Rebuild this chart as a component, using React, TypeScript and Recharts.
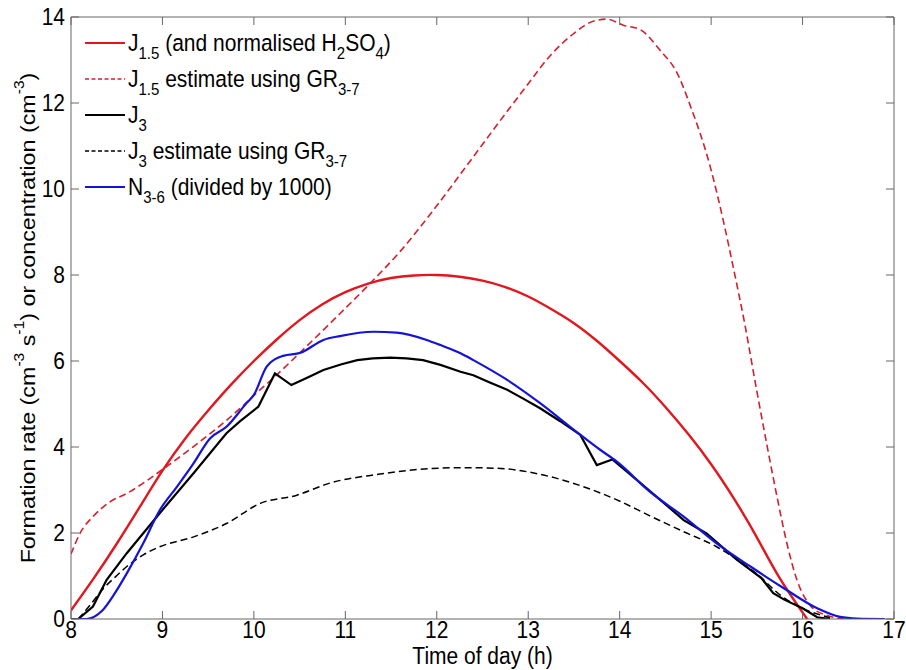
import React from "react";
import { LineChart, Line, XAxis, YAxis, ReferenceLine, Legend } from "recharts";

// axis ticks
const hourTicks = [8, 9, 10, 11, 12, 13, 14, 15, 16, 17];
const valueTicks = [0, 2, 4, 6, 8, 10, 12, 14];

// J1.5 (and normalised H2SO4)
const j15Time = [8.0, 8.25, 8.5, 8.75, 9.0, 9.25, 9.5, 9.75, 10.0, 10.25, 10.5, 10.75, 11.0, 11.25, 11.5, 11.75, 12.0, 12.25, 12.5, 12.75, 13.0, 13.25, 13.5, 13.75, 14.0, 14.25, 14.5, 14.75, 15.0, 15.25, 15.5, 15.75, 16.05];
const j15Value = [0.2, 0.95, 1.75, 2.6, 3.45, 4.2, 4.85, 5.45, 6.0, 6.5, 6.95, 7.32, 7.6, 7.8, 7.93, 7.99, 8.0, 7.96, 7.87, 7.72, 7.5, 7.21, 6.88, 6.47, 6.0, 5.5, 4.93, 4.3, 3.6, 2.8, 1.9, 0.95, 0];

// J1.5 estimate using GR3-7
const j15EstTime = [8.0, 8.1, 8.24, 8.43, 8.61, 8.79, 8.97, 9.34, 9.7, 9.85, 10.0, 10.21, 10.58, 10.94, 11.25, 11.6, 11.96, 12.33, 12.69, 12.99, 13.24, 13.5, 13.71, 13.86, 14.04, 14.23, 14.44, 14.63, 14.77, 14.99, 15.14, 15.25, 15.36, 15.5, 15.61, 15.72, 15.83, 15.94, 16.09, 16.27, 16.49];
const j15EstValue = [1.51, 2.0, 2.38, 2.73, 2.92, 3.16, 3.43, 4.01, 4.62, 4.9, 5.2, 5.6, 6.35, 7.1, 7.76, 8.55, 9.5, 10.55, 11.58, 12.42, 13.1, 13.62, 13.9, 13.95, 13.81, 13.7, 13.23, 12.69, 11.95, 10.52, 9.2, 8.1, 6.95, 5.3, 4.05, 2.85, 1.75, 0.9, 0.3, 0.08, 0];

// J3
const j3Time = [8.0, 8.08, 8.24, 8.39, 8.61, 8.97, 9.34, 9.7, 9.85, 10.05, 10.23, 10.41, 10.6, 10.76, 10.95, 11.13, 11.3, 11.49, 11.67, 11.85, 12.04, 12.26, 12.4, 12.58, 12.77, 12.95, 13.13, 13.35, 13.57, 13.75, 13.92, 14.19, 14.45, 14.7, 14.95, 15.28, 15.55, 15.68, 15.8, 16.0, 16.16, 16.3];
const j3Value = [0, 0, 0.29, 0.91, 1.53, 2.46, 3.39, 4.32, 4.6, 4.94, 5.71, 5.44, 5.63, 5.79, 5.92, 6.02, 6.06, 6.08, 6.06, 6.02, 5.91, 5.75, 5.67, 5.5, 5.33, 5.12, 4.9, 4.6, 4.28, 3.58, 3.71, 3.23, 2.76, 2.3, 1.99, 1.38, 0.95, 0.6, 0.45, 0.25, 0.04, 0];

// J3 estimate using GR3-7
const j3EstTime = [8.08, 8.2, 8.35, 8.47, 8.61, 8.79, 8.97, 9.34, 9.7, 10.07, 10.47, 10.83, 11.38, 11.93, 12.3, 12.7, 13.0, 13.24, 13.6, 13.97, 14.33, 14.7, 15.06, 15.28, 15.5, 15.76, 16.0, 16.3];
const j3EstValue = [0, 0.3, 0.7, 0.95, 1.22, 1.49, 1.68, 1.91, 2.22, 2.69, 2.88, 3.16, 3.37, 3.5, 3.52, 3.5, 3.42, 3.31, 3.08, 2.77, 2.4, 2.03, 1.68, 1.39, 1.05, 0.55, 0.25, 0.03];

// N3-6 (divided by 1000)
const n36Time = [8.0, 8.17, 8.34, 8.48, 8.61, 8.79, 8.97, 9.16, 9.34, 9.52, 9.7, 9.92, 10.0, 10.14, 10.32, 10.51, 10.76, 10.94, 11.31, 11.56, 11.89, 12.04, 12.26, 12.4, 12.77, 13.13, 13.5, 13.79, 13.97, 14.33, 14.7, 15.06, 15.43, 15.8, 16.16, 16.41, 16.6, 16.9];
const n36Value = [0, 0, 0.19, 0.6, 1.06, 1.76, 2.53, 3.08, 3.62, 4.2, 4.47, 5.02, 5.21, 5.87, 6.12, 6.19, 6.49, 6.58, 6.68, 6.66, 6.49, 6.37, 6.18, 6.02, 5.56, 5.02, 4.4, 3.93, 3.66, 2.96, 2.38, 1.76, 1.22, 0.71, 0.25, 0.05, 0.01, 0];

const toPoints = (t: number[], v: number[]) => t.map((x, i) => ({ x, y: v[i] }));

const RED = "#e3161d";
const RED_DASH = "#d4202c";
const BLUE = "#1414d8";
const AXIS = "#666666";
const FONT = "'Liberation Sans', Arial, sans-serif";
const FS = 21;
const STRETCH = 1.11; // text in the original is drawn taller than wide

const W = 906;
const H = 670;
const MARGIN = { top: 17, right: 12, left: 11, bottom: 0 };
const Y_AXIS_W = 60;
const X_AXIS_H = 51;
const PLOT_TOP = MARGIN.top;
const PLOT_RIGHT = W - MARGIN.right;
const TICK = 8;

type Part = { text: string; sub?: boolean };
const series = [
  { key: "j15", data: toPoints(j15Time, j15Value), color: RED, width: 2.4, dash: undefined, curve: "natural",
    label: [{ text: "J" }, { text: "1.5", sub: true }, { text: " (and normalised H" }, { text: "2", sub: true }, { text: "SO" }, { text: "4", sub: true }, { text: ")" }] as Part[] },
  { key: "j15est", data: toPoints(j15EstTime, j15EstValue), color: RED_DASH, width: 1.6, dash: "7 4", curve: "monotone",
    label: [{ text: "J" }, { text: "1.5", sub: true }, { text: " estimate using GR" }, { text: "3-7", sub: true }] as Part[] },
  { key: "j3", data: toPoints(j3Time, j3Value), color: "#000000", width: 2.2, dash: undefined, curve: "linear",
    label: [{ text: "J" }, { text: "3", sub: true }] as Part[] },
  { key: "j3est", data: toPoints(j3EstTime, j3EstValue), color: "#000000", width: 1.5, dash: "7 4", curve: "monotone",
    label: [{ text: "J" }, { text: "3", sub: true }, { text: " estimate using GR" }, { text: "3-7", sub: true }] as Part[] },
  { key: "n36", data: toPoints(n36Time, n36Value), color: BLUE, width: 2.2, dash: undefined, curve: "monotone",
    label: [{ text: "N" }, { text: "3-6", sub: true }, { text: " (divided by 1000)" }] as Part[] },
];

function TallText({ x, y, anchor, children }: any) {
  return (
    <g transform={`translate(${x},${y}) scale(1,${STRETCH})`}>
      <text x={0} y={0} textAnchor={anchor} fontSize={FS} fontFamily={FONT} fill="#000">
        {children}
      </text>
    </g>
  );
}

function BottomTick(props: any) {
  const { x, y, payload } = props;
  return (
    <g>
      <line x1={x} y1={y} x2={x} y2={y - TICK} stroke={AXIS} />
      <line x1={x} y1={PLOT_TOP} x2={x} y2={PLOT_TOP + TICK} stroke={AXIS} />
      <TallText x={x} y={y + 18.5} anchor="middle">{payload.value}</TallText>
    </g>
  );
}

function LeftTick(props: any) {
  const { x, y, payload } = props;
  return (
    <g>
      <line x1={x} y1={y} x2={x + TICK} y2={y} stroke={AXIS} />
      <line x1={PLOT_RIGHT} y1={y} x2={PLOT_RIGHT - TICK} y2={y} stroke={AXIS} />
      <TallText x={x - 6} y={y + 8} anchor="end">{payload.value}</TallText>
    </g>
  );
}

function XLabel(props: any) {
  const vb = props.viewBox || {};
  const cx = (vb.x || 0) + (vb.width || 0) / 2;
  return <TallText x={cx} y={H - 6} anchor="middle">Time of day (h)</TallText>;
}

function YLabel(props: any) {
  const vb = props.viewBox || {};
  const cy = (vb.y || 0) + (vb.height || 0) / 2;
  const cx = 27;
  return (
    <g transform={`translate(${cx},${cy}) rotate(-90) scale(${STRETCH},1)`}>
      <text x={0} y={0} textAnchor="middle" dominantBaseline="central" fontSize={FS} fontFamily={FONT} fill="#000">
        <tspan>Formation rate (cm</tspan>
        <tspan fontSize={14} dy={-8}>-3</tspan>
        <tspan dy={8}> s</tspan>
        <tspan fontSize={14} dy={-8}>-1</tspan>
        <tspan dy={8}>) or concentration (cm</tspan>
        <tspan fontSize={14} dy={-8}>-3</tspan>
        <tspan dy={8}>)</tspan>
      </text>
    </g>
  );
}

function LegendBox() {
  return (
    <div style={{ fontFamily: FONT, fontSize: FS, color: "#000" }}>
      {series.map((s) => (
        <div key={s.key} style={{ display: "flex", alignItems: "center", height: 36, whiteSpace: "nowrap" }}>
          <svg width={40} height={6} style={{ marginRight: 3 }}>
            <line x1={0} y1={3} x2={40} y2={3} stroke={s.color} strokeWidth={s.width > 2 ? 2 : 1.3} strokeDasharray={s.dash ? "4 2.5" : undefined} />
          </svg>
          <span style={{ display: "inline-block", transform: `scale(1, ${STRETCH})` }}>
            {s.label.map((p, i) =>
              p.sub ? (
                <span key={i} style={{ fontSize: 15, position: "relative", top: 7 }}>{p.text}</span>
              ) : (
                <span key={i}>{p.text}</span>
              )
            )}
          </span>
        </div>
      ))}
    </div>
  );
}

export default function App() {
  return (
    <div style={{ position: "absolute", left: 0, top: 0, width: W, height: H, background: "#fff" }}>
      <LineChart width={W} height={H} margin={MARGIN}>
        <XAxis
          type="number"
          dataKey="x"
          domain={[8, 17]}
          ticks={hourTicks}
          allowDataOverflow
          height={X_AXIS_H}
          tickSize={0}
          tickMargin={0}
          stroke={AXIS}
          tick={<BottomTick />}
          label={XLabel}
        />
        <YAxis
          type="number"
          dataKey="y"
          domain={[0, 14]}
          ticks={valueTicks}
          allowDataOverflow
          width={Y_AXIS_W}
          tickSize={0}
          tickMargin={0}
          stroke={AXIS}
          tick={<LeftTick />}
          label={YLabel}
        />
        <ReferenceLine y={14} stroke={AXIS} />
        <ReferenceLine x={17} stroke={AXIS} />
        {series.map((s) => (
          <Line
            key={s.key}
            data={s.data}
            dataKey="y"
            type={s.curve as any}
            stroke={s.color}
            strokeWidth={s.width}
            strokeDasharray={s.dash}
            dot={false}
            activeDot={false}
            isAnimationActive={false}
          />
        ))}
        <Legend
          layout="vertical"
          align="center"
          verticalAlign="middle"
          content={<LegendBox />}
          wrapperStyle={{ left: 85, top: 25, width: "auto", height: "auto" }}
        />
      </LineChart>
    </div>
  );
}
